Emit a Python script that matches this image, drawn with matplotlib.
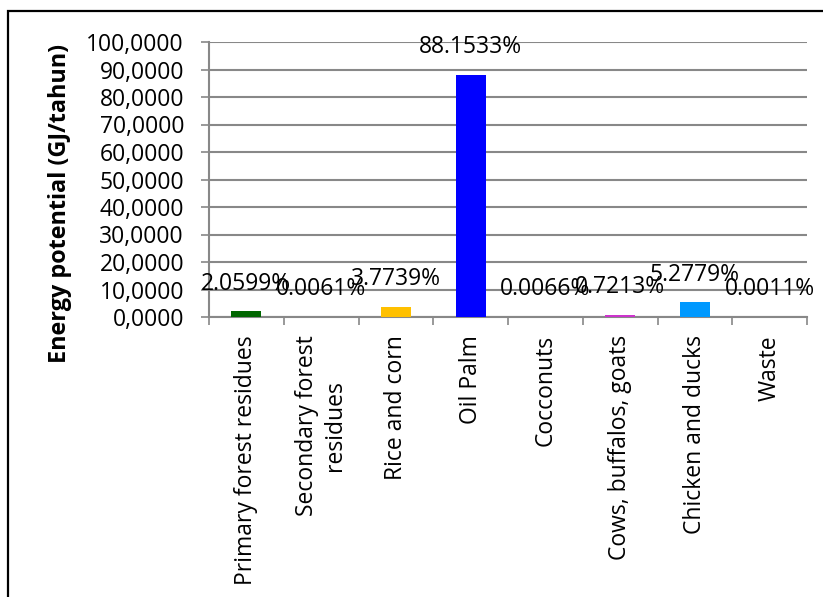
import matplotlib
matplotlib.use("Agg")
import matplotlib.pyplot as plt
from matplotlib.patches import Rectangle

categories = ["Primary forest residues", "Secondary forest\nresidues", "Rice and corn",
              "Oil Palm", "Cocconuts", "Cows, buffalos, goats", "Chicken and ducks", "Waste"]
values = [2.0599, 0.0061, 3.7739, 88.1533, 0.0066, 0.7213, 5.2779, 0.0011]
labels = ["2.0599%", "0.0061%", "3.7739%", "88.1533%", "0.0066%", "0.7213%", "5.2779%", "0.0011%"]
colors = ["#006600", "#7F7F7F", "#FFC000", "#0000FF", "#7F7F7F", "#CC33CC", "#0099FF", "#7F7F7F"]
yticks = [0, 10, 20, 30, 40, 50, 60, 70, 80, 90, 100]

plt.rcParams['font.family'] = ['Open Sans', 'DejaVu Sans']
fs = 16.5

fig = plt.figure(figsize=(8.23, 5.97), dpi=100)
ax = fig.add_axes([209/823, 1-317/597, (807-209)/823, (317-42)/597])

x = list(range(len(categories)))
ax.bar(x, values, width=0.4, color=colors, zorder=3)
for xi, v, lab in zip(x, values, labels):
    ax.annotate(lab, (xi, v), xytext=(0, 20), textcoords='offset points',
                ha='center', va='center', fontsize=fs, zorder=4)

ax.set_xlim(-0.5, len(categories)-0.5)
ax.set_ylim(0, 100)
ax.set_yticks(yticks)
ax.set_yticklabels([f"{v:.4f}".replace('.', ',') for v in yticks], fontsize=fs)
ax.yaxis.grid(True, color='#888888', linewidth=1.5, zorder=0)
ax.tick_params(axis='y', length=6, width=1.2, color='#888888', pad=12)

ax.set_xticks([i - 0.5 for i in range(len(categories)+1)])
ax.set_xticklabels([])
ax.set_xticks(x, minor=True)
ax.set_xticklabels(categories, minor=True, rotation=90, fontsize=fs,
                   ha='center', va='top', multialignment='center')
ax.tick_params(axis='x', which='major', length=6, width=1.2, color='#888888')
ax.tick_params(axis='x', which='minor', length=0, pad=13)

for s in ['top', 'right']:
    ax.spines[s].set_visible(False)
for s in ['left', 'bottom']:
    ax.spines[s].set_color('#888888')
    ax.spines[s].set_linewidth(1.5)

fig.text(60/823, 1-203/597, "Energy potential (GJ/tahun)", rotation=90,
         ha='center', va='center', fontsize=16.8, fontweight='bold')

fig.patches.append(Rectangle((8/823, -0.1), 1.2, 1-11/597+0.1, transform=fig.transFigure,
                             fill=False, edgecolor='black', linewidth=1.6))

fig.savefig("out.png", dpi=100)
